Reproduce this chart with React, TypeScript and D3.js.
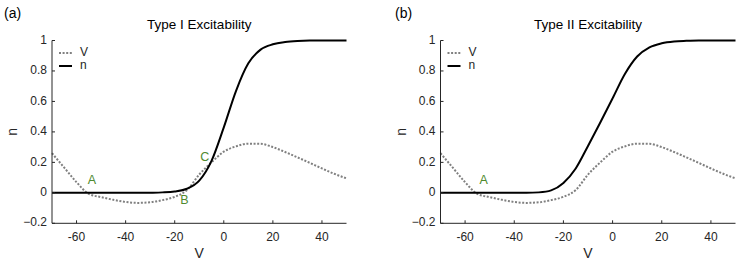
import React from "react";
import * as d3 from "d3";

// membrane potential grid (mV)
const vGrid = [-70, -65, -60, -55, -50, -45, -40, -35, -30, -25, -20, -15, -10, -5, 0, 5, 10, 15, 20, 25, 30, 35, 40, 45, 50];

// V-nullcline (same in both panels)
const vNull = [0.26, 0.165, 0.07, -0.007, -0.028, -0.046, -0.06, -0.066, -0.062, -0.048, -0.026, 0.018, 0.12, 0.2, 0.27, 0.305, 0.323, 0.322, 0.3, 0.268, 0.233, 0.197, 0.16, 0.125, 0.095];

// n-nullclines
const nNullTypeI = [0, 0, 0, 0, 0, 0, 0, 0, 0.001, 0.003, 0.009, 0.027, 0.08, 0.21, 0.43, 0.67, 0.85, 0.94, 0.975, 0.99, 0.997, 1, 1, 1, 1];
const nNullTypeII = [0, 0, 0, 0, 0, 0, 0, 0, 0.003, 0.016, 0.065, 0.16, 0.308, 0.462, 0.62, 0.78, 0.895, 0.955, 0.982, 0.994, 0.998, 1, 1, 1, 1];

const xTicks = [-60, -40, -20, 0, 20, 40];
const yTicks = [-0.2, 0, 0.2, 0.4, 0.6, 0.8, 1];

// fixed point labels
const labelsTypeI = [
  { text: "A", v: -53.7, n: 0.08 },
  { text: "B", v: -16, n: -0.05 },
  { text: "C", v: -7.8, n: 0.23 },
];
const labelsTypeII = [{ text: "A", v: -52.4, n: 0.08 }];

const FONT = "'Liberation Sans', Arial, Helvetica, sans-serif";
const AXIS = "#262626";
const GREEN = "#4f8a2e";

type Props = {
  left: number;
  right: number;
  tag: string;
  tagX: number;
  title: string;
  nNull: number[];
  labels: { text: string; v: number; n: number }[];
};

const Panel = ({ left, right, tag, tagX, title, nNull, labels }: Props) => {
  const top = 40.5;
  const bottom = 223.3;
  const x = d3.scaleLinear().domain([-70, 50]).range([left, right]);
  const y = d3.scaleLinear().domain([-0.2, 1]).range([bottom, top]);

  const line = d3
    .line<number>()
    .x((_, i) => x(vGrid[i]))
    .y((d) => y(d))
    .curve(d3.curveMonotoneX);

  return (
    <g fontFamily={FONT}>
      <text x={tagX} y={18} fontSize={14} fill="#000">
        {tag}
      </text>
      <text x={(left + right) / 2} y={28.5} fontSize={13.5} textAnchor="middle" fill="#000">
        {title}
      </text>

      {/* curves */}
      <path d={line(vNull) || ""} fill="none" stroke="#808080" strokeWidth={2} strokeDasharray="2 1.6" />
      <path d={line(nNull) || ""} fill="none" stroke="#000" strokeWidth={2} />

      {labels.map((l) => (
        <text
          key={l.text}
          x={x(l.v)}
          y={y(l.n)}
          fontSize={12.5}
          fill={GREEN}
          textAnchor="middle"
          dominantBaseline="middle"
        >
          {l.text}
        </text>
      ))}

      {/* axes */}
      <line x1={left} x2={left} y1={top} y2={bottom} stroke={AXIS} strokeWidth={1} />
      <line x1={left} x2={right} y1={bottom} y2={bottom} stroke={AXIS} strokeWidth={1} />
      {yTicks.map((t) => (
        <g key={t}>
          <line x1={left} x2={left + 3} y1={y(t)} y2={y(t)} stroke={AXIS} />
          <text x={left - 5} y={y(t)} fontSize={12} fill={AXIS} textAnchor="end" dominantBaseline="middle">
            {d3.format("")(+t.toFixed(1))}
          </text>
        </g>
      ))}
      {xTicks.map((t) => (
        <g key={t}>
          <line x1={x(t)} x2={x(t)} y1={bottom} y2={bottom - 3} stroke={AXIS} />
          <text x={x(t)} y={bottom + 17.5} fontSize={12} fill={AXIS} textAnchor="middle">
            {t}
          </text>
        </g>
      ))}
      <text x={(left + right) / 2} y={258} fontSize={14} fill={AXIS} textAnchor="middle">
        V
      </text>
      <text
        transform={`translate(${left - 38.5},${(top + bottom) / 2}) rotate(-90)`}
        fontSize={14}
        fill={AXIS}
        textAnchor="middle"
        dominantBaseline="middle"
      >
        n
      </text>

      {/* legend */}
      <line x1={left + 7} x2={left + 20} y1={53} y2={53} stroke="#808080" strokeWidth={2} strokeDasharray="2 1.6" />
      <text x={left + 28} y={53} fontSize={12} fill={AXIS} dominantBaseline="middle">
        V
      </text>
      <line x1={left + 7} x2={left + 20} y1={66} y2={66} stroke="#000" strokeWidth={2} />
      <text x={left + 28} y={66} fontSize={12} fill={AXIS} dominantBaseline="middle">
        n
      </text>
    </g>
  );
};

export default function App() {
  return (
    <>
      <style>{`body{margin:0}`}</style>
      <svg width={747} height={263} style={{ display: "block", background: "#fff" }}>
        <Panel
          left={52}
          right={346.5}
          tag="(a)"
          tagX={4}
          title="Type I Excitability"
          nNull={nNullTypeI}
          labels={labelsTypeI}
        />
        <Panel
          left={440.5}
          right={735.5}
          tag="(b)"
          tagX={395}
          title="Type II Excitability"
          nNull={nNullTypeII}
          labels={labelsTypeII}
        />
      </svg>
    </>
  );
}
